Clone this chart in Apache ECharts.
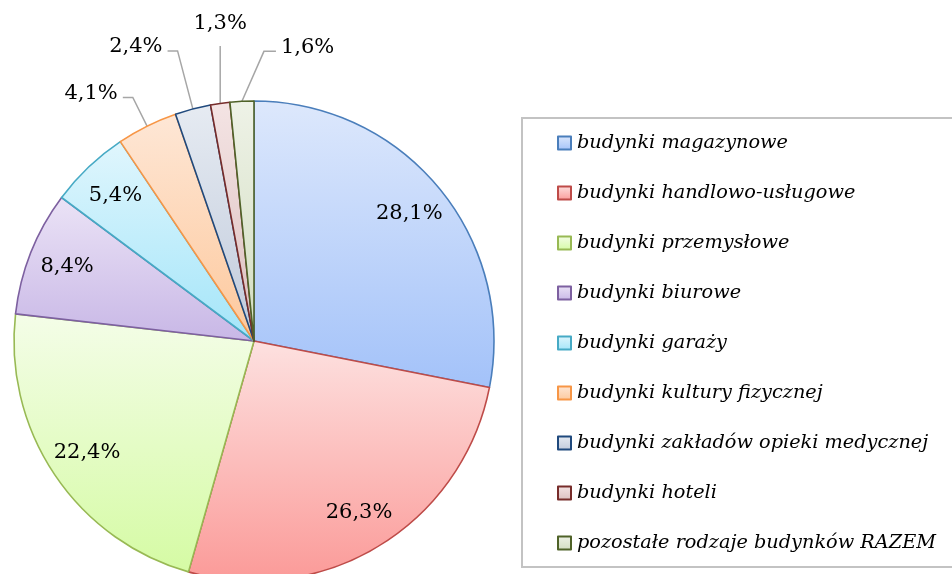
<!DOCTYPE html>
<html>
<head>
<meta charset="utf-8">
<script src="https://cdn.jsdelivr.net/npm/echarts@6/dist/echarts.min.js"></script>
<style>
html,body{margin:0;padding:0;background:#fff;}
#chart{width:952px;height:574px;}
</style>
</head>
<body>
<div id="chart"></div>
<script>
const categories = [
  'budynki magazynowe',
  'budynki handlowo-usługowe',
  'budynki przemysłowe',
  'budynki biurowe',
  'budynki garaży',
  'budynki kultury fizycznej',
  'budynki zakładów opieki medycznej',
  'budynki hoteli',
  'pozostałe rodzaje budynków RAZEM'
];
const values = [28.1, 26.3, 22.4, 8.4, 5.4, 4.1, 2.4, 1.3, 1.6];
const lightColors = ['#dde8fc', '#fde1e0', '#f4fde8', '#ebe3f6', '#e0f6fd', '#fee7d6', '#e6ebf2', '#f4e4e4', '#eef2e7'];
const darkColors  = ['#a3c2f9', '#fb9a98', '#d5fba4', '#c8b7e6', '#a3e5f9', '#fdc89c', '#c0cadb', '#dbbfbe', '#d2ddc0'];
const borderColors = ['#4a7ebb', '#be4b48', '#98b954', '#7d60a0', '#46aac5', '#f79646', '#1f497d', '#772c2a', '#4f6228'];
const outsideIdx = [5, 6, 7, 8];
const lineLen = {5: [32, 10], 6: [60, 10], 7: [58, 0], 8: [50, 10]};

const fmt = v => v.toFixed(1).replace('.', ',') + '%';
const grad = (a, b) => new echarts.graphic.LinearGradient(0, 0, 0, 1, [{offset: 0, color: a}, {offset: 1, color: b}]);

const mainData = categories.map((name, i) => {
  const isOut = outsideIdx.includes(i);
  const d = {
    name, value: values[i],
    itemStyle: {color: grad(lightColors[i], darkColors[i]), borderColor: borderColors[i], borderWidth: 1.6},
    label: {show: isOut},
    labelLine: {show: isOut}
  };
  if (isOut) d.labelLine = {show: true, length: lineLen[i][0], length2: lineLen[i][1], lineStyle: {color: '#a6a6a6', width: 1.5}};
  return d;
});
const overlayData = categories.map((name, i) => ({
  name, value: values[i],
  label: {show: !outsideIdx.includes(i)}
}));

const labelFont = {fontFamily: 'DejaVu Serif', fontSize: 21, color: '#000'};

const chart = echarts.init(document.getElementById('chart'), null, {renderer: 'canvas'});
chart.setOption({
  backgroundColor: '#fff',
  animation: false,
  legend: {
    orient: 'vertical',
    left: 522, top: 118,
    padding: [14, 60, 13, 35],
    borderColor: '#c3c3c3', borderWidth: 2, borderRadius: 0,
    itemWidth: 13, itemHeight: 13, itemGap: 28,
    icon: 'rect',
    data: categories,
    textStyle: {fontFamily: 'DejaVu Serif', fontStyle: 'italic', fontSize: 19.3, color: '#000', lineHeight: 22, padding: [0, 0, 0, 1]},
    selectedMode: false
  },
  series: [
    {
      type: 'pie',
      center: [254, 341],
      radius: [0, 240],
      startAngle: 90,
      clockwise: true,
      avoidLabelOverlap: false,
      data: mainData,
      label: Object.assign({position: 'outside', formatter: p => fmt(p.value)}, labelFont),
      labelLayout: function (p) {
        const pts = p.labelLinePoints;
        if (!pts) return {};
        const p0 = pts[0], p1 = pts[1];
        if (p.dataIndex === 7) {
          return {x: p0[0], y: p1[1] - 12, align: 'center', verticalAlign: 'bottom',
                  labelLinePoints: [[p0[0], p0[1]], [p0[0], p1[1]], [p0[0], p1[1]]]};
        }
        if (p.dataIndex === 8) {
          return {x: p0[0] + 39, y: p1[1] - 4, align: 'left', verticalAlign: 'middle',
                  labelLinePoints: [[p0[0], p0[1]], [p0[0] + 22, p1[1]], [p0[0] + 34, p1[1]]]};
        }
        return {dy: -4};
      },
      emphasis: {disabled: true}
    },
    {
      type: 'pie',
      center: [254, 341],
      radius: [156, 240],
      startAngle: 90,
      clockwise: true,
      silent: true,
      legendHoverLink: false,
      itemStyle: {color: 'rgba(0,0,0,0)', borderWidth: 0},
      data: overlayData,
      label: Object.assign({position: 'inside', formatter: p => fmt(p.value)}, labelFont),
      labelLine: {show: false},
      emphasis: {disabled: true}
    }
  ]
});
</script>
</body>
</html>
